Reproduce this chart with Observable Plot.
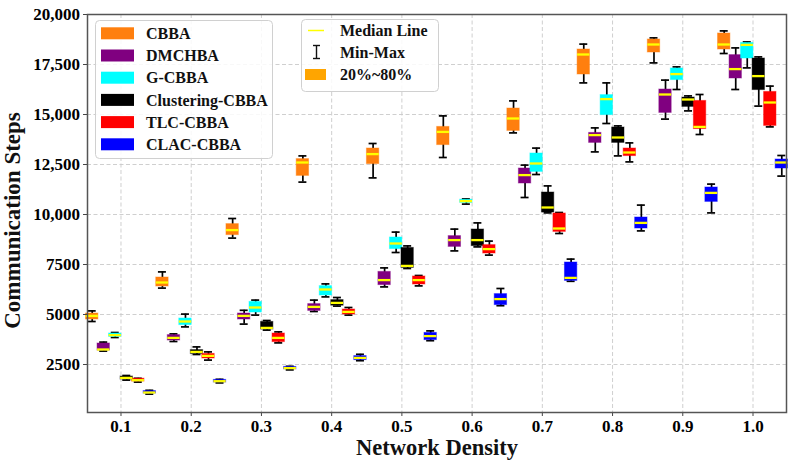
<!DOCTYPE html>
<html>
<head>
<meta charset="utf-8">
<script src="https://cdn.jsdelivr.net/npm/d3@7"></script>
<script src="https://cdn.jsdelivr.net/npm/@observablehq/plot@0.6"></script>
<style>
  body { margin: 0; background: #fff; }
  #chart { position: relative; width: 794px; height: 467px; }
</style>
</head>
<body>
<div id="chart"></div>
<script>
// Network densities on the x axis
const densities = [0.1, 0.2, 0.3, 0.4, 0.5, 0.6, 0.7, 0.8, 0.9, 1.0];
const xTickLabels = ["0.1", "0.2", "0.3", "0.4", "0.5", "0.6", "0.7", "0.8", "0.9", "1.0"];
const yTicks = [2500, 5000, 7500, 10000, 12500, 15000, 17500, 20000];
const yTickLabels = ["2500", "5000", "7500", "10,000", "12,500", "15,000", "17,500", "20,000"];

const algorithms = ["CBBA", "DMCHBA", "G-CBBA", "Clustering-CBBA", "TLC-CBBA", "CLAC-CBBA"];
const colors = ["#ff7f0e", "#800080", "#00ffff", "#000000", "#ff0000", "#0000ff"];

// Communication steps per density: [min, 20th pct, median, 80th pct, max]
const cbba = [
  [4650, 4750, 4930, 5050, 5180],
  [6320, 6400, 6600, 6850, 7130],
  [8820, 8970, 9220, 9520, 9800],
  [11620, 11930, 12600, 12770, 12930],
  [11830, 12520, 13020, 13300, 13550],
  [12850, 13470, 14130, 14380, 14930],
  [14080, 14180, 14800, 15300, 15680],
  [16580, 17000, 18000, 18250, 18520],
  [17580, 18100, 18500, 18750, 18830],
  [18050, 18250, 18500, 19050, 19180]
];
const dmchba = [
  [3170, 3200, 3250, 3550, 3620],
  [3650, 3700, 3830, 3970, 4030],
  [4520, 4750, 4930, 5050, 5210],
  [5150, 5180, 5380, 5520, 5720],
  [6380, 6470, 6720, 7130, 7330],
  [8180, 8380, 8720, 8920, 9270],
  [10850, 11550, 11970, 12300, 12470],
  [13130, 13580, 13970, 14080, 14330],
  [14770, 15080, 16000, 16250, 16720],
  [16250, 16800, 17270, 17970, 18330]
];
const gcbba = [
  [3850, 3880, 3970, 4050, 4100],
  [4380, 4470, 4650, 4800, 5020],
  [4970, 5100, 5350, 5630, 5720],
  [5880, 5950, 6250, 6420, 6530],
  [8100, 8270, 8550, 8850, 9120],
  [10520, 10580, 10670, 10740, 10780],
  [12000, 12130, 12550, 13050, 13320],
  [14550, 14970, 15770, 15970, 16580],
  [16250, 16720, 17020, 17300, 17380],
  [17330, 17800, 18480, 18580, 18630]
];
const clustering = [
  [1720, 1750, 1830, 1900, 1950],
  [3000, 3030, 3130, 3220, 3380],
  [4220, 4250, 4330, 4630, 4700],
  [5420, 5440, 5580, 5720, 5850],
  [7300, 7330, 7430, 8330, 8430],
  [8380, 8420, 8720, 9250, 9580],
  [10080, 10100, 10350, 11100, 11430],
  [12930, 13580, 13850, 14350, 14430],
  [15180, 15380, 15750, 15850, 15930],
  [15420, 16220, 16920, 17800, 17880]
];
const tlc = [
  [1620, 1650, 1715, 1790, 1810],
  [2720, 2800, 2930, 3030, 3130],
  [3580, 3620, 3830, 4050, 4130],
  [4970, 5000, 5130, 5250, 5350],
  [6430, 6500, 6720, 6900, 6950],
  [7970, 8050, 8270, 8470, 8670],
  [9050, 9130, 9300, 10050, 10100],
  [12630, 12920, 13100, 13300, 13580],
  [14000, 14270, 14380, 15680, 16000],
  [14380, 14430, 15600, 16130, 16420]
];
const clac = [
  [1020, 1050, 1100, 1170, 1210],
  [1580, 1600, 1665, 1730, 1760],
  [2230, 2260, 2320, 2380, 2410],
  [2690, 2720, 2830, 2920, 3010],
  [3690, 3720, 3920, 4080, 4180],
  [5440, 5470, 5770, 6020, 6300],
  [6660, 6680, 6830, 7600, 7770],
  [9180, 9300, 9580, 9850, 10470],
  [10080, 10630, 11080, 11350, 11520],
  [11920, 12300, 12600, 12750, 12950]
];

const series = [cbba, dmchba, gcbba, clustering, tlc, clac];

// Layout of the grouped boxes, in density units
const groupStep = 0.0164;   // spacing between neighbouring algorithms
const boxHalf = 0.0088;     // half box width
const capHalf = 0.0057;     // half whisker-cap width

const rows = [];
series.forEach((s, i) => {
  s.forEach(([min, q20, med, q80, max], j) => {
    rows.push({
      algo: algorithms[i],
      color: colors[i],
      x: densities[j] + (i - 2.5) * groupStep,
      min, q20, med, q80, max
    });
  });
});

const font = "'Liberation Serif', 'Times New Roman', serif";
const gridStyle = { stroke: "#cacaca", strokeOpacity: 1, strokeWidth: 0.9, strokeDasharray: "4,2.5" };

const chart = Plot.plot({
  width: 794,
  height: 467,
  marginLeft: 87,
  marginRight: 8,
  marginTop: 14,
  marginBottom: 55,
  style: { fontFamily: font, background: "#fff" },
  x: { domain: [0.0523, 1.0477] },
  y: { domain: [100, 20000] },
  color: { type: "identity" },
  marks: [
    Plot.gridX(densities, gridStyle),
    Plot.gridY(yTicks, gridStyle),
    // whiskers and caps
    Plot.ruleX(rows, { x: "x", y1: "min", y2: "max", stroke: "#000", strokeWidth: 1.7 }),
    Plot.ruleY(rows, { y: "min", x1: d => d.x - capHalf, x2: d => d.x + capHalf, stroke: "#000", strokeWidth: 1.7 }),
    Plot.ruleY(rows, { y: "max", x1: d => d.x - capHalf, x2: d => d.x + capHalf, stroke: "#000", strokeWidth: 1.7 }),
    // 20%-80% boxes
    Plot.rect(rows, {
      x1: d => d.x - boxHalf, x2: d => d.x + boxHalf,
      y1: "q20", y2: "q80",
      fill: "color", stroke: "color", strokeOpacity: 0.45, strokeWidth: 1
    }),
    // medians
    Plot.ruleY(rows, { y: "med", x1: d => d.x - boxHalf, x2: d => d.x + boxHalf, stroke: "#ffff00", strokeWidth: 2.3 }),
    Plot.axisX(densities, {
      tickFormat: d => xTickLabels[densities.indexOf(d)],
      tickSize: 4, tickPadding: 3, fontSize: 17, fontWeight: "bold", label: null, stroke: "#444"
    }),
    Plot.axisY(yTicks, {
      tickFormat: d => yTickLabels[yTicks.indexOf(d)],
      tickSize: 4, tickPadding: 3.5, fontSize: 17, fontWeight: "bold", label: null, stroke: "#444"
    }),
    Plot.frame({ stroke: "#555", strokeWidth: 1.5 }),
    Plot.text(["Network Density"], {
      text: d => d, frameAnchor: "bottom", lineAnchor: "middle", textAnchor: "middle",
      dy: 35.5, fontSize: 22.5, fontWeight: "bold", fill: "#111"
    }),
    Plot.text(["Communication Steps"], {
      text: d => d, frameAnchor: "left", lineAnchor: "middle", textAnchor: "middle",
      dx: -74.5, dy: 7, rotate: -90, fontSize: 23, fontWeight: "bold", fill: "#111"
    })
  ]
});

document.getElementById("chart").appendChild(chart);

// Legends drawn inside the plotting area
const svg = d3.select(chart);

function legendBox(x, y, w, h) {
  return svg.append("rect")
    .attr("x", x).attr("y", y).attr("width", w).attr("height", h)
    .attr("rx", 4).attr("fill", "#fff").attr("fill-opacity", 0.85)
    .attr("stroke", "#d0d0d0").attr("stroke-width", 1);
}
function legendText(x, y, t) {
  svg.append("text")
    .attr("x", x).attr("y", y).attr("dy", "0.35em")
    .attr("text-anchor", "start")
    .attr("font-family", font).attr("font-size", 16)
    .attr("font-weight", "bold").attr("fill", "#111").text(t);
}

// Algorithm legend
legendBox(95.5, 20.5, 177, 138);
algorithms.forEach((name, i) => {
  const cy = 33.3 + i * 22.2;
  svg.append("rect").attr("x", 101).attr("y", cy - 6).attr("width", 33).attr("height", 12)
    .attr("fill", colors[i]);
  legendText(146, cy, name);
});

// Box-element legend
const elementLabels = ["Median Line", "Min-Max", "20%~80%"];
legendBox(301.5, 19.5, 137, 72);
svg.append("line").attr("x1", 308).attr("x2", 324).attr("y1", 30.5).attr("y2", 30.5)
  .attr("stroke", "#ffff00").attr("stroke-width", 1.5);
const g2 = svg.append("g").attr("stroke", "#111").attr("stroke-width", 1.4);
g2.append("line").attr("x1", 316.5).attr("x2", 316.5).attr("y1", 45.5).attr("y2", 58.5);
g2.append("line").attr("x1", 313).attr("x2", 320).attr("y1", 45.5).attr("y2", 45.5);
g2.append("line").attr("x1", 313).attr("x2", 320).attr("y1", 58.5).attr("y2", 58.5);
svg.append("rect").attr("x", 305).attr("y", 69).attr("width", 21).attr("height", 11).attr("fill", "#ffa500");
elementLabels.forEach((t, i) => legendText(340, 30.5 + i * 22, t));
</script>
</body>
</html>
